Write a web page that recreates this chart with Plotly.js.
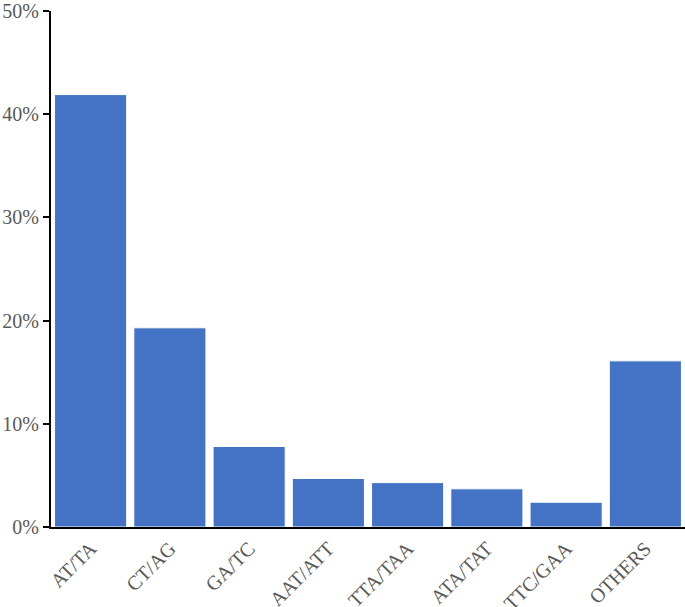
<!DOCTYPE html>
<html>
<head>
<meta charset="utf-8">
<script src="https://cdn.plot.ly/plotly-3.0.1.min.js"></script>
<style>
  html, body { margin: 0; padding: 0; background: #fff; }
  #chart { width: 685px; height: 607px; }
</style>
</head>
<body>
<div id="chart"></div>
<script>
var categories = ['AT/TA', 'CT/AG', 'GA/TC', 'AAT/ATT', 'TTA/TAA', 'ATA/TAT', 'TTC/GAA', 'OTHERS'];
var shares = [41.9, 19.3, 7.8, 4.7, 4.3, 3.7, 2.4, 16.1];
var yTicks = [0, 10, 20, 30, 40, 50];

var data = [
    {
        type: 'bar',
        x: categories,
        y: shares,
        marker: {
            color: '#4472c4',
            line: { color: '#ffffff', width: 1 }
        },
        showlegend: false,
        hoverinfo: 'x+y'
    }
];

var layout = {
    width: 685,
    height: 607,
    paper_bgcolor: '#ffffff',
    plot_bgcolor: '#ffffff',
    font: {
        family: 'Liberation Serif',
        size: 20,
        color: '#595959'
    },
    bargap: 0.09,
    margin: { l: 51, r: 0, t: 11, b: 80 },
    xaxis: {
        type: 'category',
        tickangle: -45,
        showline: true,
        linecolor: '#000000',
        linewidth: 2,
        ticks: '',
        showgrid: false,
        zeroline: false
    },
    yaxis: {
        range: [0, 50],
        tickvals: yTicks,
        ticktext: yTicks.map(function (v) { return v + '%'; }),
        showline: true,
        linecolor: '#000000',
        linewidth: 2,
        ticks: 'outside',
        ticklen: 6,
        tickwidth: 2,
        tickcolor: '#000000',
        showgrid: false,
        zeroline: false
    }
};

Plotly.newPlot('chart', data, layout, { displayModeBar: false });
</script>
</body>
</html>
